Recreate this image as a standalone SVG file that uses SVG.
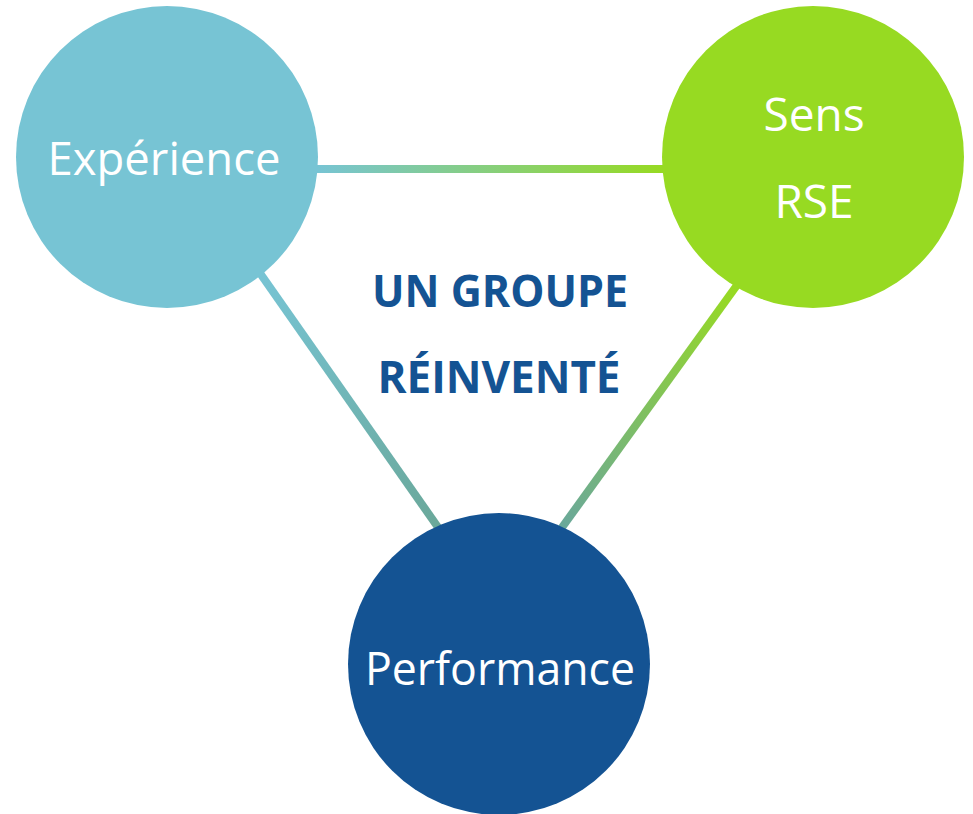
<svg xmlns="http://www.w3.org/2000/svg" width="973" height="814" viewBox="0 0 973 814">
  <defs>
    <linearGradient id="gTop" gradientUnits="userSpaceOnUse" x1="317" y1="169" x2="663" y2="169">
      <stop offset="0" stop-color="#77c4d4"/>
      <stop offset="1" stop-color="#97da22"/>
    </linearGradient>
    <linearGradient id="gLeft" gradientUnits="userSpaceOnUse" x1="260" y1="273" x2="438" y2="527">
      <stop offset="0" stop-color="#77c4d4"/>
      <stop offset="1" stop-color="#6aa89a"/>
    </linearGradient>
    <linearGradient id="gRight" gradientUnits="userSpaceOnUse" x1="735" y1="288" x2="562" y2="527">
      <stop offset="0" stop-color="#97da22"/>
      <stop offset="1" stop-color="#6aa89a"/>
    </linearGradient>
  </defs>
  <style>
    .link { stroke-width: 8; fill: none; }
    .label { font-family: "Open Sans", "Noto Sans", "DejaVu Sans", sans-serif; font-size: 46px; fill: #ffffff; text-anchor: middle; }
    .title { font-family: "Open Sans", "Noto Sans", "DejaVu Sans", sans-serif; font-weight: bold; font-size: 45px; fill: #145393; text-anchor: middle; }
  </style>
  <rect width="973" height="814" fill="#ffffff"/>

  <g id="connectors">
    <line class="link" x1="310" y1="169" x2="670" y2="169" stroke="url(#gTop)"/>
    <line class="link" x1="255" y1="266" x2="442" y2="533" stroke="url(#gLeft)"/>
    <line class="link" x1="740" y1="281" x2="558" y2="533" stroke="url(#gRight)"/>
  </g>

  <g id="experience">
    <circle cx="167" cy="157" r="151" fill="#77c4d4"/>
    <text class="label" x="164" y="175" textLength="233" lengthAdjust="spacingAndGlyphs">Expérience</text>
  </g>

  <g id="sens-rse">
    <circle cx="813" cy="157" r="151" fill="#97da22"/>
    <text class="label" x="814" y="131">Sens</text>
    <text class="label" x="814" y="218">RSE</text>
  </g>

  <g id="performance">
    <circle cx="499" cy="664" r="151" fill="#145393"/>
    <text class="label" x="500" y="685" textLength="270" lengthAdjust="spacingAndGlyphs">Performance</text>
  </g>

  <g id="center-title">
    <text class="title" x="500" y="307" textLength="256" lengthAdjust="spacingAndGlyphs">UN GROUPE</text>
    <text class="title" x="499" y="393" textLength="243" lengthAdjust="spacingAndGlyphs">RÉINVENTÉ</text>
  </g>
</svg>
